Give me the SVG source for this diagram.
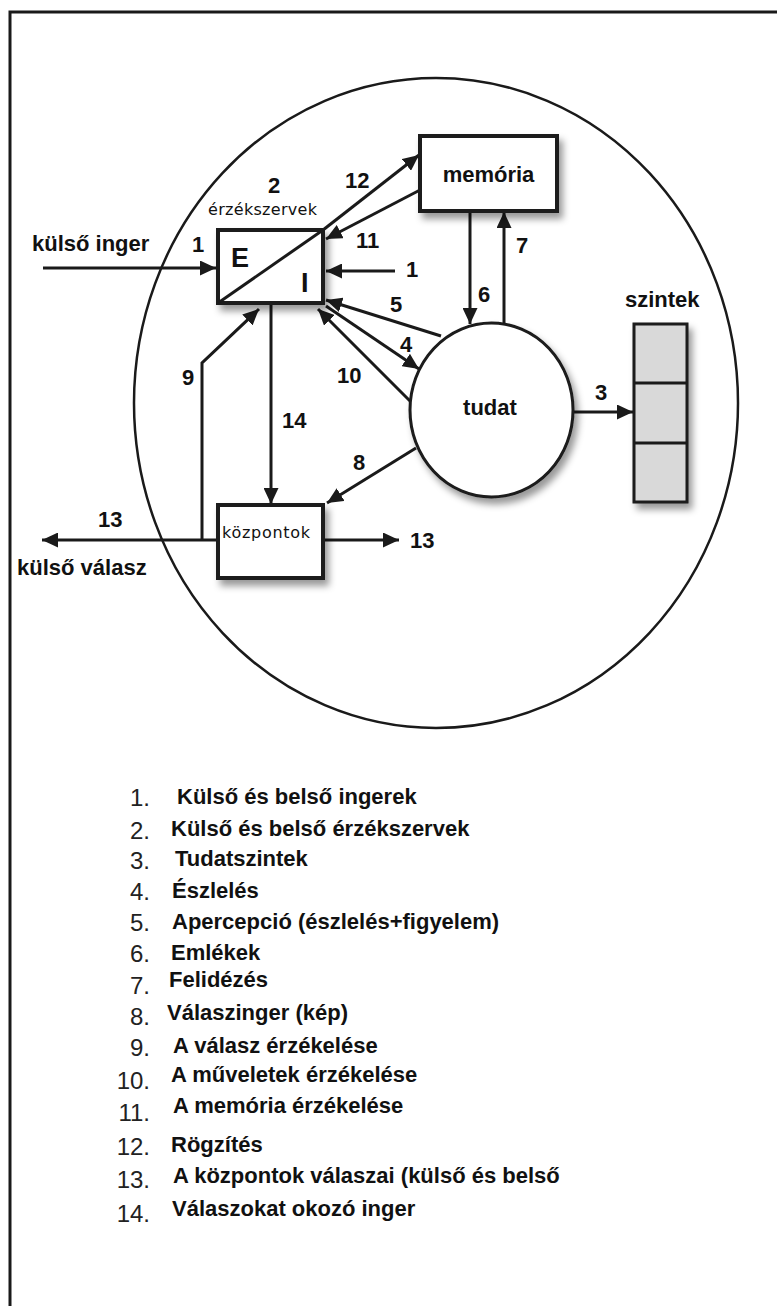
<svg xmlns="http://www.w3.org/2000/svg" width="777" height="1306" viewBox="0 0 777 1306">
<style>
.ln{stroke:#1a1a1a;stroke-width:3;fill:none}
.bx{stroke:#1a1a1a;stroke-width:4;fill:#fff}
.b{font-family:"Liberation Sans",Arial,sans-serif;font-weight:bold;font-size:22px;fill:#111}
.s{font-family:"DejaVu Sans","Liberation Sans",sans-serif;font-size:16px;fill:#111}
.n{font-family:"Liberation Sans",Arial,sans-serif;font-size:24px;fill:#222;text-anchor:end}
.lg{font-family:"Liberation Sans",Arial,sans-serif;font-weight:bold;font-size:22px;fill:#111}
</style>
<defs>
<marker id="ah" markerUnits="userSpaceOnUse" markerWidth="17" markerHeight="15" refX="16" refY="7.5" orient="auto">
<path d="M0,0 L16,7.5 L0,15 Z" fill="#1a1a1a"/>
</marker>
<filter id="sh" x="-20%" y="-20%" width="150%" height="150%">
<feDropShadow dx="4" dy="6" stdDeviation="3.5" flood-color="#000" flood-opacity="0.4"/>
</filter>
</defs>
<rect width="777" height="1306" fill="#fff"/>
<path d="M10,1310 L10,12 L780,12" stroke="#1a1a1a" stroke-width="3" fill="none"/>
<ellipse id="outer" cx="436" cy="403" rx="302" ry="325" fill="none" stroke="#1a1a1a" stroke-width="2.5"/>

<g id="connectors">
<line class="ln" x1="43" y1="268" x2="216" y2="268" marker-end="url(#ah)"/>
<line class="ln" x1="395" y1="271" x2="326" y2="271" marker-end="url(#ah)"/>
<line class="ln" x1="323" y1="230" x2="419" y2="155" marker-end="url(#ah)"/>
<line class="ln" x1="420" y1="190" x2="326" y2="239" marker-end="url(#ah)"/>
<line class="ln" x1="470" y1="212" x2="470" y2="324" marker-end="url(#ah)"/>
<line class="ln" x1="504" y1="323" x2="504" y2="212" marker-end="url(#ah)"/>
<line class="ln" x1="441" y1="336" x2="326" y2="300" marker-end="url(#ah)"/>
<line class="ln" x1="326" y1="306" x2="419" y2="369" marker-end="url(#ah)"/>
<line class="ln" x1="411" y1="402" x2="318" y2="309" marker-end="url(#ah)"/>
<polyline class="ln" points="202,540 202,363 259,309" marker-end="url(#ah)"/>
<line class="ln" x1="271" y1="304" x2="271" y2="504" marker-end="url(#ah)"/>
<line class="ln" x1="416" y1="448" x2="327" y2="503" marker-end="url(#ah)"/>
<line class="ln" x1="218" y1="540" x2="42" y2="540" marker-end="url(#ah)"/>
<line class="ln" x1="323" y1="540" x2="399" y2="540" marker-end="url(#ah)"/>
<line class="ln" x1="573" y1="412" x2="633" y2="412" marker-end="url(#ah)"/>
</g>

<g id="erzekszervek">
<rect class="bx" x="218" y="230" width="105" height="73" filter="url(#sh)"/>
<line class="ln" x1="218" y1="303" x2="323" y2="230"/>
<text class="b" x="231" y="267" style="font-size:27px">E</text>
<text class="b" x="301" y="292" style="font-size:27px">I</text>
<text class="b" x="268" y="193">2</text>
<text class="s" x="208" y="215" textLength="109">érzékszervek</text>
</g>

<g id="memoria">
<rect class="bx" x="420" y="136" width="137" height="75" filter="url(#sh)"/>
<text class="b" x="488.5" y="182" text-anchor="middle">memória</text>
</g>

<g id="tudat">
<ellipse cx="491.5" cy="410" rx="81.5" ry="87" fill="#fff" stroke="#1a1a1a" stroke-width="3" filter="url(#sh)"/>
<text class="b" x="490" y="415" text-anchor="middle">tudat</text>
</g>

<g id="szintek">
<rect x="634" y="324" width="53" height="178" fill="#d9d9d9" stroke="#1a1a1a" stroke-width="3" filter="url(#sh)"/>
<line class="ln" x1="634" y1="383" x2="687" y2="383"/>
<line class="ln" x1="634" y1="443" x2="687" y2="443"/>
<text class="b" x="625" y="307">szintek</text>
</g>

<g id="kozpontok">
<rect class="bx" x="218" y="505" width="105" height="73" filter="url(#sh)"/>
<text class="s" x="222" y="538" textLength="88">központok</text>
</g>

<g id="labels">
<text class="b" x="32" y="251">külső inger</text>
<text class="b" x="192" y="252">1</text>
<text class="b" x="345" y="188">12</text>
<text class="b" x="356" y="248">11</text>
<text class="b" x="406" y="277">1</text>
<text class="b" x="478" y="302">6</text>
<text class="b" x="516" y="253">7</text>
<text class="b" x="390" y="312">5</text>
<text class="b" x="400" y="352">4</text>
<text class="b" x="337" y="383">10</text>
<text class="b" x="182" y="385">9</text>
<text class="b" x="282" y="428">14</text>
<text class="b" x="353" y="470">8</text>
<text class="b" x="595" y="400">3</text>
<text class="b" x="98" y="527">13</text>
<text class="b" x="410" y="548">13</text>
<text class="b" x="17" y="575">külső válasz</text>
</g>

<g id="legend">
<text class="n" x="150" y="806">1.</text><text class="lg" x="177" y="804">Külső és belső ingerek</text>
<text class="n" x="150" y="839">2.</text><text class="lg" x="171" y="836">Külső és belső érzékszervek</text>
<text class="n" x="150" y="869">3.</text><text class="lg" x="175" y="866">Tudatszintek</text>
<text class="n" x="150" y="900">4.</text><text class="lg" x="172" y="898">Észlelés</text>
<text class="n" x="150" y="931">5.</text><text class="lg" x="172" y="929">Apercepció (észlelés+figyelem)</text>
<text class="n" x="150" y="962">6.</text><text class="lg" x="171" y="960">Emlékek</text>
<text class="n" x="150" y="994">7.</text><text class="lg" x="169" y="987">Felidézés</text>
<text class="n" x="150" y="1025">8.</text><text class="lg" x="167" y="1020">Válaszinger (kép)</text>
<text class="n" x="150" y="1056">9.</text><text class="lg" x="173" y="1053">A válasz érzékelése</text>
<text class="n" x="150" y="1089">10.</text><text class="lg" x="171" y="1082">A műveletek érzékelése</text>
<text class="n" x="150" y="1121">11.</text><text class="lg" x="173" y="1113">A memória érzékelése</text>
<text class="n" x="150" y="1155">12.</text><text class="lg" x="171" y="1152">Rögzítés</text>
<text class="n" x="150" y="1188">13.</text><text class="lg" x="173" y="1183">A központok válaszai (külső és belső</text>
<text class="n" x="150" y="1222">14.</text><text class="lg" x="172" y="1216">Válaszokat okozó inger</text>
</g>
</svg>
